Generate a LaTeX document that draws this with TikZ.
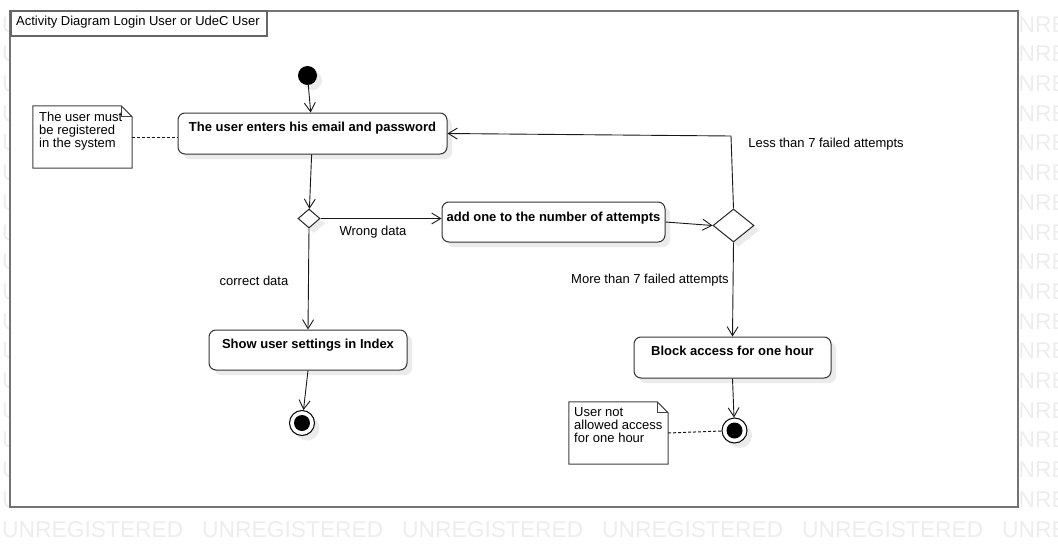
\documentclass[tikz,border=0pt]{standalone}
\usepackage{fontspec}
\setmainfont{Liberation Sans}
\usetikzlibrary{arrows.meta,shapes.geometric,shadows}
\begin{document}
\begin{tikzpicture}[x=1pt,y=-1pt,
  shad/.style={drop shadow={shadow xshift=5pt,shadow yshift=-5pt,fill=black!8,opacity=1}},
  wm/.style={font=\fontsize{22.8}{22.8}\selectfont, text=black!7, inner sep=0pt, anchor=base west},
  lbl/.style={font=\fontsize{13}{13}\selectfont, inner sep=0pt, anchor=base},
  act/.style={draw=black!80, line width=1pt, rounded corners=7pt, fill=white, inner xsep=0pt, inner ysep=0pt,
              font=\fontsize{13}{13}\selectfont\bfseries, shad},
  dec/.style={diamond, draw=black!85, line width=1pt, fill=white, inner sep=0pt, shad},
  initst/.style={circle, fill=black, inner sep=0pt, minimum size=19pt, shad},
  finalst/.style={circle, draw=black, line width=1pt, fill=white, inner sep=0pt, minimum size=25pt, shad},
  finaldot/.style={circle, fill=black, inner sep=0pt, minimum size=16pt},
  arr/.style={-{Straight Barb[length=9pt,width=11pt]}, line width=0.9pt, black!90},
  dotline/.style={line width=1pt, black!90, dash pattern=on 3pt off 2pt},
  notebox/.style={rectangle, inner sep=0pt, minimum width=99pt, minimum height=62pt},
  noteline/.style={draw=black!75, line width=1pt, fill=white},
  notetext/.style={font=\fontsize{13}{13}\selectfont, align=left, inner sep=0pt, anchor=north west}
]
\useasboundingbox (0,0) rectangle (1058,546);
\clip (0,0) rectangle (1058,546);
% watermark
\foreach \r in {0,...,17}{
  \foreach \c in {0,...,5}{
    \node[wm] (wm-\r-\c) at ({2+200*\c},{537-29.7*\r}) {UNREGISTERED};
  }
}
% frame
\node[draw=black!55, line width=2pt, fill=white, inner sep=0pt, minimum width=1008pt, minimum height=496pt, anchor=north west] (frame) at (9,10) {};
\node[draw=black!60, line width=1.5pt, fill=white, inner sep=0pt, minimum width=256pt, minimum height=25pt, anchor=north west] (titlebox) at (10,10) {};
\node[lbl, anchor=base west] (title) at (16,25) {Activity Diagram Login User or UdeC User};

% states
\node[initst] (init) at (307.5,75.5) {};
\node[act, minimum width=269pt, text height=18pt, text depth=23pt] (act1) at (312.5,133.5) {The user enters his email and password};
\node[dec, minimum width=22pt, minimum height=19pt] (d1) at (309,218.5) {};
\node[act, minimum width=223pt, text height=19pt, text depth=21pt] (act2) at (553.5,222) {add one to the number of attempts};
\node[dec, minimum width=41pt, minimum height=33pt] (d2) at (733.5,225.5) {};
\node[act, minimum width=197pt, text height=18pt, text depth=23pt] (act3) at (732.5,357.5) {Block access for one hour};
\node[act, minimum width=198pt, text height=18pt, text depth=22pt] (act4) at (308,350) {Show user settings in Index};
\node[finalst] (fin1) at (302,423) {};
\node[finaldot] (fin1d) at (302,423) {};
\node[finalst] (fin2) at (734.5,430.5) {};
\node[finaldot] (fin2d) at (734.5,430.5) {};

% notes
\node[notebox] (n1) at (82.5,137) {};
\draw[noteline] (n1.north west) -- ([xshift=-11pt]n1.north east) -- ([yshift=-11pt]n1.north east) -- (n1.south east) -- (n1.south west) -- cycle;
\draw[noteline, fill=none] ([xshift=-11pt]n1.north east) -- ([xshift=-11pt,yshift=-11pt]n1.north east) -- ([yshift=-11pt]n1.north east);
\node[notetext] (n1t) at (39,111.6) {The user must\\be registered\\in the system};

\node[notebox] (n2) at (618.5,433) {};
\draw[noteline] (n2.north west) -- ([xshift=-11pt]n2.north east) -- ([yshift=-11pt]n2.north east) -- (n2.south east) -- (n2.south west) -- cycle;
\draw[noteline, fill=none] ([xshift=-11pt]n2.north east) -- ([xshift=-11pt,yshift=-11pt]n2.north east) -- ([yshift=-11pt]n2.north east);
\node[notetext] (n2t) at (574,407.6) {User not\\allowed access\\for one hour};

% connectors
\coordinate (c1) at (731,136);
\draw[arr] (init) -- (act1);
\draw[arr] (act1) -- (d1);
\draw[arr] (d1.east) -- (act2.west |- d1.east);
\draw[arr] (act2.east) -- (d2.west);
\draw[arr] (d2.north) -- (c1) -- (act1.east);
\draw[arr] (d2.south) -- (act3.north);
\draw[arr] (act3.south) -- (fin2);
\draw[arr] (d1.south) -- (act4.north);
\draw[arr] (act4.south) -- (fin1);
\draw[dotline] (n1.east) -- (act1.west |- n1.east);
\draw[dotline] (n2.east) -- (fin2);

% labels
\node[lbl] (lwrong) at (373,235) {Wrong data};
\node[lbl] (lcorrect) at (254,285) {correct data};
\node[lbl] (lless) at (826,147.5) {Less than 7 failed attempts};
\node[lbl] (lmore) at (650,283) {More than 7 failed attempts};
\end{tikzpicture}
\end{document}
